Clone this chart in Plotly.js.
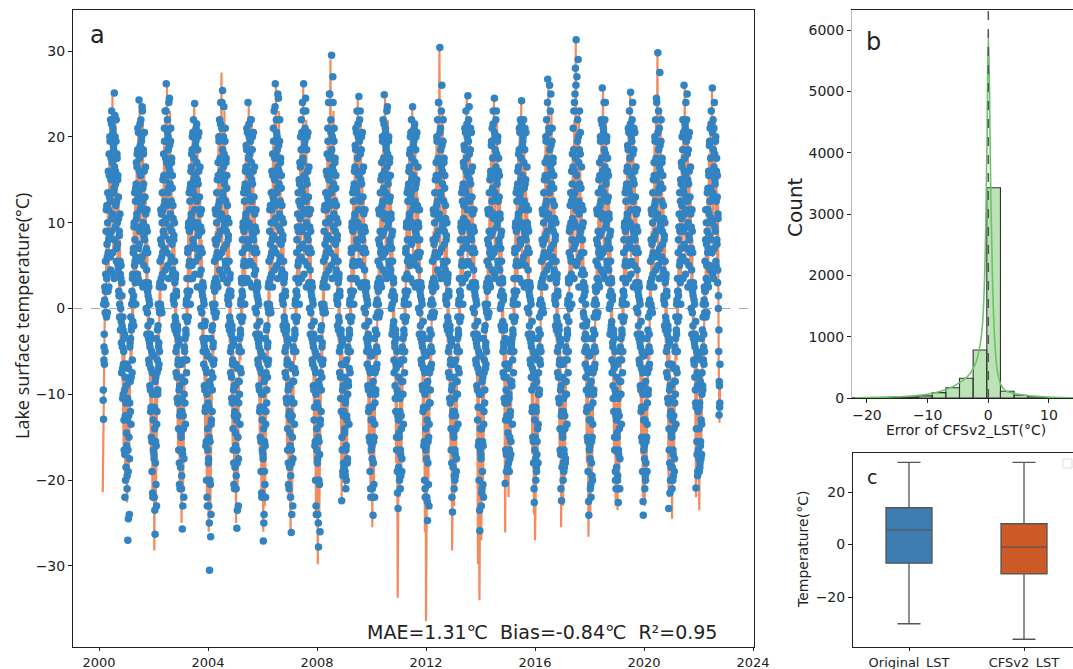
<!DOCTYPE html>
<html>
<head>
<meta charset="utf-8">
<script src="https://cdn.plot.ly/plotly-3.0.1.min.js"></script>
<style>html,body{margin:0;padding:0;background:#fff;}#chart{width:1073px;height:669px;}</style>
</head>
<body>
<div id="chart"></div>
<script>
// ---------- Panel a : time series ----------
const years = [2000,2001,2002,2003,2004,2005,2006,2007,2008,2009,2010,2011,2012,2013,2014,2015,2016,2017,2018,2019,2020,2021,2022];
// day-of-year of observation samples (two interleaved 5-day sets)
const obsDOY  = [0,5,10,15,20,25,30,35,40,45,50,55,60,65,70,75,80,85,90,95,100,105,110,115,120,125,130,135,140,145,150,155,160,165,170,175,180,185,190,195,200,205,210,215,220,225,230,235,240,245,250,255,260,265,270,275,280,285,290,295,300,305,310,315,320,325,330,335,340,345,350,355,360];
const obsDOY2 = [2,7,12,17,22,27,32,37,42,47,52,57,62,67,72,77,82,87,92,97,102,107,112,117,122,127,132,137,142,147,152,157,162,167,172,177,182,187,192,197,202,207,212,217,222,227,232,237,242,247,252,257,262,267,272,277,282,287,292,297,302,307,312,317,322,327,332,337,342,347,352,357,362];
// day-of-year of CFSv2 samples (10-day steps)
const cfsDOY = [0,10,20,30,40,50,60,70,80,90,100,110,120,130,140,150,160,170,180,190,200,210,220,230,240,250,260,270,280,290,300,310,320,330,340,350,360];

// Original LST (blue points), set 1: one row per year, 73 values each
const obsLST = [
/*2000*/ null,null,null,null,null,null,null,null,null,null,null,-10.7,-12.9,-6,-3,1,-5,2,4,9,-1,12,6,10,2,16,8,18,13,20,6,22,15,9,23,17,11,21,4,19,14,25.1,8,20,16,12,22,7,18,10,15,5,13,2,9,-1,11,4,0,5,-4,3,-2,-7,-1,-10,-5,-13,-3,-17,-8,-20,-11,
/*2001*/ -9,-16,-21,-13,-27,-19,-7,-15,-24,-11,-4,-12,-1,-8,-2,2,-6,4,1,7,-2,10,5,8,3,14,6,17,11,18,4,21,13,7,24.3,16,9,19,3,22,12,20,6,23,14,10,18,5,16,8,13,3,11,0,7,-3,9,2,-2,3,-6,1,-4,-9,-3,-12,-7,-15,-5,-19,-10,-22,-13,
/*2002*/ -10,-17,-22,-14,-26.3,-18,-8,-16,-23,-12,-6,-10,-2,-7,-4,0,-5,3,3,8,0,11,6,10,4,15,9,18,12,21,7,23,15,10,26.2,17,12,22,5,20,14,24,8,19,16,11,21,6,17,9,14,4,12,1,8,-2,10,3,-1,4,-5,2,-3,-8,-2,-11,-6,-14,-4,-18,-9,-21,-12,
/*2003*/ -8,-15,-21,-12,-25.7,-17,-6,-14,-22,-10,-5,-11,-1,-6,-3,1,-6,2,2,7,-1,10,5,9,2,14,7,16,11,18,5,20,14,8,22,15,10,23.9,4,19,13,21,7,17,15,10,20,6,16,9,13,4,11,0,7,-2,9,2,-2,3,-5,1,-4,-9,-2,-12,-7,-16,-5,-20,-10,-23,-14,
/*2004*/ -11,-18,-23,-15,-30.5,-20,-9,-26.6,-24,-13,-6,-12,-2,-8,-4,0,-6,3,2,8,-1,11,6,10,3,15,8,17,12,20,6,22,15,9,24,16,11,21,4,25.4,13,20,7,18,15,10,21,5,17,9,14,3,12,1,8,-2,10,2,-1,4,-5,2,-3,-8,-2,-11,-6,-14,-4,-18,-9,-21,-12,
/*2005*/ -9,-16,-21,-13,-25.6,-18,-7,-15,-23,-11,-5,-10,-1,-7,-3,1,-5,3,2,8,-1,10,5,9,3,14,7,16,11,19,5,21,14,8,24,16,10,20,3,18,13,22,7,17,15,9,20,5,16,8,13,4,11,0,7,-3,9,2,-2,3,-6,1,-4,-9,-3,-12,-7,-15,-5,-19,-10,-22,-13,
/*2006*/ -10,-17,-27.1,-14,-24,-19,-8,-16,-22,-12,-6,-11,-2,-8,-4,0,-6,3,3,9,0,12,6,10,4,16,8,18,13,21,7,23,15,10,26.2,18,12,22,5,20,14,25,8,19,16,11,22,6,17,9,14,4,12,1,8,-2,10,3,-1,4,-5,2,-3,-8,-2,-11,-6,-14,-4,-18,-9,-21,-12,
/*2007*/ -9,-16,-22,-13,-26.1,-18,-7,-15,-23,-11,-5,-11,-1,-7,-3,1,-5,2,2,8,-1,11,5,9,3,15,7,17,12,20,6,22,14,9,24,17,11,26.2,4,19,13,21,7,23,15,10,20,5,16,8,13,3,11,0,7,-3,9,2,-2,3,-6,1,-4,-9,-3,-13,-7,-16,-5,-20,-10,-24,-14,
/*2008*/ -11,-18,-24,-15,-27.8,-20,-9,-17,-26,-13,-6,-12,-2,-8,-4,0,-6,3,3,9,0,12,6,10,4,16,8,18,13,21,7,24,15,10,25,18,12,22,5,29.5,14,20,8,24,16,11,21,6,17,9,14,4,12,1,8,-2,10,3,-1,4,-5,2,-3,-8,-3,-12,-22.4,-15,-4,-19,-9,-18,-12,
/*2009*/ -8,-14,-19,-11,-21,-16,-6,-13,-18,-10,-5,-9,-1,-7,-3,1,-5,2,2,7,-1,10,5,9,2,14,7,16,11,19,5,21,14,8,23,16,10,20,3,24.7,13,22,7,18,15,9,20,5,16,8,13,3,11,0,7,-2,9,2,-2,3,-5,1,-4,-9,-3,-12,-7,-15,-5,-19,-10,-22,-13,
/*2010*/ -9,-16,-21,-13,-24.1,-18,-7,-15,-22,-11,-5,-10,-1,-7,-3,1,-5,3,2,8,-1,11,5,9,3,15,7,17,12,20,6,22,14,9,24.9,16,11,21,4,19,13,23,7,18,15,10,20,5,17,8,13,4,11,0,7,-3,9,2,-2,3,-6,1,-4,-9,-3,-12,-7,-15,-5,-19,-10,-23.3,-13,
/*2011*/ -8,-15,-20,-12,-21,-17,-6,-14,-19,-10,-5,-10,-1,-6,-3,1,-5,2,2,7,-1,10,4,8,2,14,6,16,11,18,5,20,13,8,22,15,10,23.5,3,19,12,21,6,17,14,9,20,5,15,8,12,3,10,0,6,-3,8,2,-2,3,-6,1,-4,-9,-3,-12,-7,-16,-5,-20,-10,-22,-14,
/*2012*/ -9,-16,-22,-13,-24.7,-18,-7,-15,-23,-11,-5,-11,-1,-7,-3,1,-5,3,2,8,-1,11,6,10,3,15,8,17,12,20,6,22,15,9,24,17,11,30.4,4,21,13,23,7,19,16,10,22,5,17,9,14,4,12,1,8,-2,10,3,-1,4,-5,2,-3,-8,-2,-11,-6,-14,-4,-18,-9,-23.7,-12,
/*2013*/ -8,-15,-21,-12,-20,-17,-6,-14,-19,-10,-5,-10,-1,-7,-3,1,-5,2,2,8,-1,10,5,9,3,14,7,17,12,19,5,21,14,8,23,16,10,20,4,24.8,13,22,7,18,15,9,21,5,16,8,13,3,11,0,7,-3,9,2,-2,3,-6,1,-4,-9,-3,-13,-7,-16,-5,-20,-10,-25.9,-14,
/*2014*/ -10,-17,-23,-14,-21,-19,-8,-16,-22,-12,-6,-11,-2,-7,-4,0,-5,3,2,8,-1,11,5,9,3,15,7,16,11,19,6,21,14,9,23,16,11,24.5,4,20,13,22,7,18,15,10,20,5,16,8,13,3,11,0,7,-2,9,2,-2,3,-5,1,-4,-8,-2,-11,-20.4,-13,-4,-17,-8,-19,-11,
/*2015*/ -7,-13,-18,-10,-19,-15,-5,-12,-17,-9,-4,-9,-1,-6,-3,1,-5,2,2,7,-1,10,5,9,2,14,7,16,11,18,5,21,13,8,22,15,10,24.2,3,19,12,20,6,17,14,9,21,5,15,8,12,3,10,0,7,-3,9,2,-2,3,-6,1,-4,-8,-3,-12,-7,-15,-5,-18,-9,-22.6,-13,
/*2016*/ -8,-15,-20,-12,-19,-17,-6,-14,-18,-10,-5,-10,-1,-6,-3,1,-5,3,3,8,0,11,6,10,4,15,8,17,12,20,6,22,15,9,26.7,17,11,21,5,26,14,23,7,19,16,10,21,6,17,9,14,4,12,1,8,-2,10,3,-1,4,-5,2,-3,-8,-2,-11,-6,-14,-4,-17,-9,-22.4,-12,
/*2017*/ -8,-15,-20,-12,-19,-17,-6,-14,-18,-10,-5,-10,-1,-6,-3,1,-5,3,3,9,0,12,6,10,4,16,8,18,13,21,7,23,16,10,25,28,12,31.3,5,27,14,22,8,20,17,11,23,6,18,9,14,4,12,1,8,-2,10,3,-1,4,-5,2,-3,-8,-2,-12,-7,-15,-5,-19,-10,-24.1,-13,
/*2018*/ -9,-16,-21,-13,-22,-18,-7,-15,-20,-11,-5,-10,-1,-7,-3,1,-5,2,2,8,-1,11,5,9,3,15,7,17,12,20,6,22,14,9,25.7,16,11,21,4,24,13,22,7,18,15,10,20,5,16,8,13,3,11,0,7,-3,9,2,-2,3,-6,1,-4,-9,-3,-12,-7,-15,-5,-19,-10,-21,-13,
/*2019*/ -8,-15,-20,-12,-22.6,-17,-6,-14,-21,-10,-5,-10,-1,-6,-3,1,-5,2,2,8,-1,10,5,9,3,14,7,16,11,19,5,21,14,8,23,16,10,25.2,4,20,13,22,7,18,15,9,21,5,16,8,13,3,11,0,7,-3,9,2,-2,3,-6,1,-4,-9,-3,-12,-7,-15,-5,-19,-10,-24.1,-13,
/*2020*/ -9,-16,-21,-13,-20,-18,-7,-15,-19,-11,-5,-10,-1,-7,-3,1,-5,3,3,8,0,11,6,10,4,15,8,17,12,20,6,22,15,9,24,17,11,29.8,5,23,14,21,7,19,16,10,22,6,17,9,14,4,12,1,8,-2,10,3,-1,4,-5,2,-3,-8,-2,-11,-23.3,-14,-4,-18,-9,-20,-12,
/*2021*/ -9,-15,-21,-13,-20,-17,-7,-14,-19,-11,-5,-10,-1,-7,-3,1,-5,2,2,8,-1,11,5,9,3,15,7,17,12,20,6,22,14,9,26,16,11,21,4,24,13,22,7,18,15,10,20,5,16,8,13,3,11,0,7,-3,9,2,-2,3,-6,1,-4,-8,-3,-11,-20.9,-14,-5,-17,-9,-19,-12,
/*2022*/ -8,-14,-19,-11,-18,-16,-6,-13,-17,-10,-5,-9,-1,-6,-3,1,-5,2,2,8,-1,10,5,9,3,14,7,16,11,19,5,21,14,8,23,16,10,25.7,4,22,13,21,7,18,15,9,20,5,16,8,13,3,11,0,-5,-12.4,-9,-11,null,null,null,null,null,null,null,null,null,null,null,null,null,null,null
];

// Original LST (blue points), set 2 (offset days): one row per year, 73 values each
const obsLST2 = [
/*2000*/ null,null,null,null,null,null,null,null,null,null,null,-9.5,0.5,-4.5,-6.5,2.5,-0.5,5.5,0.5,11.5,3.5,7.5,-0.5,13.5,6.5,11.5,2.5,15.5,8.5,19.5,12.5,4.5,17.5,21.5,10.5,15.5,6.5,20.5,13.5,18.5,3.5,16.5,22.5,9.5,14.5,19.5,5.5,12.5,17.5,7.5,15.5,4.5,10.5,1.5,8.5,0.5,5.5,-2.5,3.5,-1.5,-7.5,1.5,-4.5,-10.5,-2.5,-6.5,-3.5,-16.5,-9.5,-22,-12.5,-6.5,-18.5,
/*2001*/ -14.5,-6.5,-19.5,-10.5,-16.5,-24.5,-12.5,-8.5,-17.5,-4.5,-8.5,-3.5,-13.5,-2.5,0.5,-7.5,3.5,-1.5,6.5,1.5,9.5,3.5,13.5,5.5,12.5,0.5,14.5,10.5,16.5,9.5,18.5,3.5,20.5,13.5,7.5,17.5,21.5,11.5,15.5,5.5,19.5,9.5,23.5,12.5,2.5,18.5,14.5,8.5,20.5,11.5,6.5,16.5,2.5,9.5,4.5,11.5,-0.5,6.5,1.5,-3.5,2.5,-6.5,0.5,-4.5,-9.5,-1.5,-11.5,-3.5,-15.5,-7.5,-21.5,-5.5,-16.5,
/*2002*/ -5.5,-17.5,-11.5,-23.5,-8.5,-15.5,-20.5,-3.5,-13.5,-7.5,-2.5,-9.5,0.5,-4.5,-6.5,2.5,-0.5,5.5,0.5,11.5,3.5,7.5,-0.5,13.5,6.5,11.5,2.5,15.5,8.5,19.5,12.5,4.5,17.5,23,10.5,15.5,6.5,20.5,13.5,18.5,3.5,16.5,24.5,9.5,14.5,19.5,5.5,12.5,17.5,7.5,15.5,4.5,10.5,1.5,8.5,0.5,5.5,-2.5,3.5,-1.5,-7.5,1.5,-4.5,-10.5,-2.5,-6.5,-3.5,-16.5,-9.5,-20.5,-12.5,-6.5,-18.5,
/*2003*/ -14.5,-6.5,-19.5,-10.5,-16.5,-23,-12.5,-8.5,-17.5,-4.5,-8.5,-3.5,-13.5,-2.5,0.5,-7.5,3.5,-1.5,6.5,1.5,9.5,3.5,13.5,5.5,12.5,0.5,14.5,10.5,16.5,9.5,18.5,3.5,20.5,13.5,7.5,17.5,20.5,11.5,15.5,5.5,19.5,9.5,21.5,12.5,2.5,18.5,14.5,8.5,20.5,11.5,6.5,16.5,2.5,9.5,4.5,11.5,-0.5,6.5,1.5,-3.5,2.5,-6.5,0.5,-4.5,-9.5,-1.5,-11.5,-3.5,-15.5,-7.5,-22,-5.5,-16.5,
/*2004*/ -5.5,-17.5,-11.5,-25,-8.5,-15.5,-20.5,-3.5,-13.5,-7.5,-2.5,-9.5,0.5,-4.5,-6.5,2.5,-0.5,5.5,0.5,11.5,3.5,7.5,-0.5,13.5,6.5,11.5,2.5,15.5,8.5,19.5,12.5,4.5,17.5,21.5,10.5,15.5,6.5,24,13.5,18.5,3.5,16.5,23.5,9.5,14.5,19.5,5.5,12.5,17.5,7.5,15.5,4.5,10.5,1.5,8.5,0.5,5.5,-2.5,3.5,-1.5,-7.5,1.5,-4.5,-10.5,-2.5,-6.5,-3.5,-16.5,-9.5,-20.5,-12.5,-6.5,-18.5,
/*2005*/ -14.5,-6.5,-19.5,-10.5,-16.5,-23.5,-12.5,-8.5,-17.5,-4.5,-8.5,-3.5,-13.5,-2.5,0.5,-7.5,3.5,-1.5,6.5,1.5,9.5,3.5,13.5,5.5,12.5,0.5,14.5,10.5,16.5,9.5,18.5,3.5,20.5,13.5,7.5,17.5,21.5,11.5,15.5,5.5,19.5,9.5,22,12.5,2.5,18.5,14.5,8.5,20.5,11.5,6.5,16.5,2.5,9.5,4.5,11.5,-0.5,6.5,1.5,-3.5,2.5,-6.5,0.5,-4.5,-9.5,-1.5,-11.5,-3.5,-15.5,-7.5,-21.5,-5.5,-16.5,
/*2006*/ -5.5,-17.5,-11.5,-25,-8.5,-15.5,-20.5,-3.5,-13.5,-7.5,-2.5,-9.5,0.5,-4.5,-6.5,2.5,-0.5,5.5,0.5,11.5,3.5,7.5,-0.5,13.5,6.5,11.5,2.5,15.5,8.5,19.5,12.5,4.5,17.5,23.5,10.5,15.5,6.5,20.5,13.5,18.5,3.5,16.5,24.5,9.5,14.5,19.5,5.5,12.5,17.5,7.5,15.5,4.5,10.5,1.5,8.5,0.5,5.5,-2.5,3.5,-1.5,-7.5,1.5,-4.5,-10.5,-2.5,-6.5,-3.5,-16.5,-9.5,-20.5,-12.5,-6.5,-18.5,
/*2007*/ -14.5,-6.5,-19.5,-10.5,-16.5,-24,-12.5,-8.5,-17.5,-4.5,-8.5,-3.5,-13.5,-2.5,0.5,-7.5,3.5,-1.5,6.5,1.5,9.5,3.5,13.5,5.5,12.5,0.5,14.5,10.5,16.5,9.5,18.5,3.5,20.5,13.5,7.5,17.5,23,11.5,15.5,5.5,19.5,9.5,24.5,12.5,2.5,18.5,14.5,8.5,20.5,11.5,6.5,16.5,2.5,9.5,4.5,11.5,-0.5,6.5,1.5,-3.5,2.5,-6.5,0.5,-4.5,-9.5,-1.5,-11.5,-3.5,-15.5,-7.5,-23,-5.5,-16.5,
/*2008*/ -5.5,-17.5,-11.5,-25,-8.5,-15.5,-20.5,-3.5,-13.5,-7.5,-2.5,-9.5,0.5,-4.5,-6.5,2.5,-0.5,5.5,0.5,11.5,3.5,7.5,-0.5,13.5,6.5,11.5,2.5,15.5,8.5,19.5,12.5,4.5,17.5,25,10.5,15.5,6.5,20.5,13.5,18.5,3.5,16.5,27,9.5,14.5,19.5,5.5,12.5,17.5,7.5,15.5,4.5,10.5,1.5,8.5,0.5,5.5,-2.5,3.5,-1.5,-7.5,1.5,-4.5,-10.5,-2.5,-6.5,-3.5,-16.5,-9.5,-19.5,-12.5,-6.5,-18.5,
/*2009*/ -14.5,-6.5,-19.5,-10.5,-16.5,-20,-12.5,-8.5,-17.5,-4.5,-8.5,-3.5,-13.5,-2.5,0.5,-7.5,3.5,-1.5,6.5,1.5,9.5,3.5,13.5,5.5,12.5,0.5,14.5,10.5,16.5,9.5,18.5,3.5,20.5,13.5,7.5,17.5,21.5,11.5,15.5,5.5,19.5,9.5,23,12.5,2.5,18.5,14.5,8.5,20.5,11.5,6.5,16.5,2.5,9.5,4.5,11.5,-0.5,6.5,1.5,-3.5,2.5,-6.5,0.5,-4.5,-9.5,-1.5,-11.5,-3.5,-15.5,-7.5,-21,-5.5,-16.5,
/*2010*/ -5.5,-17.5,-11.5,-22,-8.5,-15.5,-20.5,-3.5,-13.5,-7.5,-2.5,-9.5,0.5,-4.5,-6.5,2.5,-0.5,5.5,0.5,11.5,3.5,7.5,-0.5,13.5,6.5,11.5,2.5,15.5,8.5,19.5,12.5,4.5,17.5,21.5,10.5,15.5,6.5,20.5,13.5,18.5,3.5,16.5,23.5,9.5,14.5,19.5,5.5,12.5,17.5,7.5,15.5,4.5,10.5,1.5,8.5,0.5,5.5,-2.5,3.5,-1.5,-7.5,1.5,-4.5,-10.5,-2.5,-6.5,-3.5,-16.5,-9.5,-21.5,-12.5,-6.5,-18.5,
/*2011*/ -14.5,-6.5,-19.5,-10.5,-16.5,-19.5,-12.5,-8.5,-17.5,-4.5,-8.5,-3.5,-13.5,-2.5,0.5,-7.5,3.5,-1.5,6.5,1.5,9.5,3.5,13.5,5.5,12.5,0.5,14.5,10.5,16.5,9.5,18.5,3.5,20.5,13.5,7.5,17.5,20.5,11.5,15.5,5.5,19.5,9.5,21.5,12.5,2.5,18.5,14.5,8.5,20.5,11.5,6.5,16.5,2.5,9.5,4.5,11.5,-0.5,6.5,1.5,-3.5,2.5,-6.5,0.5,-4.5,-9.5,-1.5,-11.5,-3.5,-15.5,-7.5,-21,-5.5,-16.5,
/*2012*/ -5.5,-17.5,-11.5,-22.5,-8.5,-15.5,-20.5,-3.5,-13.5,-7.5,-2.5,-9.5,0.5,-4.5,-6.5,2.5,-0.5,5.5,0.5,11.5,3.5,7.5,-0.5,13.5,6.5,11.5,2.5,15.5,8.5,19.5,12.5,4.5,17.5,24,10.5,15.5,6.5,20.5,13.5,18.5,3.5,16.5,26,9.5,14.5,19.5,5.5,12.5,17.5,7.5,15.5,4.5,10.5,1.5,8.5,0.5,5.5,-2.5,3.5,-1.5,-7.5,1.5,-4.5,-10.5,-2.5,-6.5,-3.5,-16.5,-9.5,-22,-12.5,-6.5,-18.5,
/*2013*/ -14.5,-6.5,-19.5,-10.5,-16.5,-19.5,-12.5,-8.5,-17.5,-4.5,-8.5,-3.5,-13.5,-2.5,0.5,-7.5,3.5,-1.5,6.5,1.5,9.5,3.5,13.5,5.5,12.5,0.5,14.5,10.5,16.5,9.5,18.5,3.5,20.5,13.5,7.5,17.5,21.5,11.5,15.5,5.5,19.5,9.5,23.5,12.5,2.5,18.5,14.5,8.5,20.5,11.5,6.5,16.5,2.5,9.5,4.5,11.5,-0.5,6.5,1.5,-3.5,2.5,-6.5,0.5,-4.5,-9.5,-1.5,-11.5,-3.5,-15.5,-7.5,-23.5,-5.5,-16.5,
/*2014*/ -5.5,-17.5,-11.5,-21.5,-8.5,-15.5,-20.5,-3.5,-13.5,-7.5,-2.5,-9.5,0.5,-4.5,-6.5,2.5,-0.5,5.5,0.5,11.5,3.5,7.5,-0.5,13.5,6.5,11.5,2.5,15.5,8.5,19.5,12.5,4.5,17.5,21.5,10.5,15.5,6.5,20.5,13.5,18.5,3.5,16.5,23,9.5,14.5,19.5,5.5,12.5,17.5,7.5,15.5,4.5,10.5,1.5,8.5,0.5,5.5,-2.5,3.5,-1.5,-7.5,1.5,-4.5,-10.5,-2.5,-6.5,-3.5,-16.5,-9.5,-19,-12.5,-6.5,-18.5,
/*2015*/ -14.5,-6.5,-17,-10.5,-16.5,-17.5,-12.5,-8.5,-15.5,-4.5,-8.5,-3.5,-13.5,-2.5,0.5,-7.5,3.5,-1.5,6.5,1.5,9.5,3.5,13.5,5.5,12.5,0.5,14.5,10.5,16.5,9.5,18.5,3.5,20.5,13.5,7.5,17.5,21.5,11.5,15.5,5.5,19.5,9.5,22,12.5,2.5,18.5,14.5,8.5,20.5,11.5,6.5,16.5,2.5,9.5,4.5,11.5,-0.5,6.5,1.5,-3.5,2.5,-6.5,0.5,-4.5,-9.5,-1.5,-11.5,-3.5,-15.5,-7.5,-21,-5.5,-16.5,
/*2016*/ -5.5,-17.5,-11.5,-18.5,-8.5,-15.5,-18,-3.5,-13.5,-7.5,-2.5,-9.5,0.5,-4.5,-6.5,2.5,-0.5,5.5,0.5,11.5,3.5,7.5,-0.5,13.5,6.5,11.5,2.5,15.5,8.5,19.5,12.5,4.5,17.5,24,10.5,15.5,6.5,20.5,13.5,18.5,3.5,16.5,25,9.5,14.5,19.5,5.5,12.5,17.5,7.5,15.5,4.5,10.5,1.5,8.5,0.5,5.5,-2.5,3.5,-1.5,-7.5,1.5,-4.5,-10.5,-2.5,-6.5,-3.5,-16.5,-9.5,-21,-12.5,-6.5,-18.5,
/*2017*/ -14.5,-6.5,-18,-10.5,-16.5,-18.5,-12.5,-8.5,-17.5,-4.5,-8.5,-3.5,-13.5,-2.5,0.5,-7.5,3.5,-1.5,6.5,1.5,9.5,3.5,13.5,5.5,12.5,0.5,14.5,10.5,16.5,9.5,18.5,3.5,24,13.5,7.5,17.5,26,11.5,15.5,5.5,19.5,9.5,29,12.5,2.5,18.5,14.5,8.5,20.5,11.5,6.5,16.5,2.5,9.5,4.5,11.5,-0.5,6.5,1.5,-3.5,2.5,-6.5,0.5,-4.5,-9.5,-1.5,-11.5,-3.5,-15.5,-7.5,-22.5,-5.5,-16.5,
/*2018*/ -5.5,-17.5,-11.5,-20.5,-8.5,-15.5,-19.5,-3.5,-13.5,-7.5,-2.5,-9.5,0.5,-4.5,-6.5,2.5,-0.5,5.5,0.5,11.5,3.5,7.5,-0.5,13.5,6.5,11.5,2.5,15.5,8.5,19.5,12.5,4.5,17.5,21.5,10.5,15.5,6.5,20.5,13.5,18.5,3.5,16.5,24,9.5,14.5,19.5,5.5,12.5,17.5,7.5,15.5,4.5,10.5,1.5,8.5,0.5,5.5,-2.5,3.5,-1.5,-7.5,1.5,-4.5,-10.5,-2.5,-6.5,-3.5,-16.5,-9.5,-20,-12.5,-6.5,-18.5,
/*2019*/ -14.5,-6.5,-19.5,-10.5,-16.5,-21,-12.5,-8.5,-17.5,-4.5,-8.5,-3.5,-13.5,-2.5,0.5,-7.5,3.5,-1.5,6.5,1.5,9.5,3.5,13.5,5.5,12.5,0.5,14.5,10.5,16.5,9.5,18.5,3.5,20.5,13.5,7.5,17.5,21.5,11.5,15.5,5.5,19.5,9.5,24,12.5,2.5,18.5,14.5,8.5,20.5,11.5,6.5,16.5,2.5,9.5,4.5,11.5,-0.5,6.5,1.5,-3.5,2.5,-6.5,0.5,-4.5,-9.5,-1.5,-11.5,-3.5,-15.5,-7.5,-22.5,-5.5,-16.5,
/*2020*/ -5.5,-17.5,-11.5,-19.5,-8.5,-15.5,-19,-3.5,-13.5,-7.5,-2.5,-9.5,0.5,-4.5,-6.5,2.5,-0.5,5.5,0.5,11.5,3.5,7.5,-0.5,13.5,6.5,11.5,2.5,15.5,8.5,19.5,12.5,4.5,17.5,24.5,10.5,15.5,6.5,20.5,13.5,18.5,3.5,16.5,27.5,9.5,14.5,19.5,5.5,12.5,17.5,7.5,15.5,4.5,10.5,1.5,8.5,0.5,5.5,-2.5,3.5,-1.5,-7.5,1.5,-4.5,-10.5,-2.5,-6.5,-3.5,-16.5,-9.5,-21.5,-12.5,-6.5,-18.5,
/*2021*/ -14.5,-6.5,-18.5,-10.5,-16.5,-19.5,-12.5,-8.5,-17.5,-4.5,-8.5,-3.5,-13.5,-2.5,0.5,-7.5,3.5,-1.5,6.5,1.5,9.5,3.5,13.5,5.5,12.5,0.5,14.5,10.5,16.5,9.5,18.5,3.5,20.5,13.5,7.5,17.5,21.5,11.5,15.5,5.5,19.5,9.5,25,12.5,2.5,18.5,14.5,8.5,20.5,11.5,6.5,16.5,2.5,9.5,4.5,11.5,-0.5,6.5,1.5,-3.5,2.5,-6.5,0.5,-4.5,-9.5,-1.5,-11.5,-3.5,-15.5,-7.5,-19.5,-5.5,-16.5,
/*2022*/ -5.5,-17.5,-11.5,-18.5,-8.5,-15.5,-17.5,-3.5,-13.5,-7.5,-2.5,-9.5,0.5,-4.5,-6.5,2.5,-0.5,5.5,0.5,11.5,3.5,7.5,-0.5,13.5,6.5,11.5,2.5,15.5,8.5,19.5,12.5,4.5,17.5,21.5,10.5,15.5,6.5,20.5,13.5,18.5,3.5,16.5,24,9.5,14.5,19.5,5.5,12.5,17.5,7.5,15.5,4.5,10.5,1.5,-2.5,-8.5,-11.5,-6.5,null,null,null,null,null,null,null,null,null,null,null,null,null,null,null
];

// CFSv2 LST (orange line), one row per year, 37 values each
const cfsLST = [
/*2000*/ null,null,null,null,null,-21.4,-8,-6,2,-1,9,4,13,3,18,8,21,12,25,6,19,14,22,9,16,5,13,1,8,-4,2,-6,-9,-16,-5,-20,-11,
/*2001*/ -12,-22.6,-8,-20,-15,-10,-3,-6,2,-1,9,4,13,3,18,8,21,12,24,6,19,14,22,9,16,5,13,1,8,-4,2,-6,-9,-17,-5,-22,-11,
/*2002*/ -13,-28.2,-9,-23,-16,-11,-3,-6,2,-1,9,4,14,3,19,8,22,12,26,6,20,14,23,9,16,5,13,1,8,-4,2,-6,-10,-17,-5,-21,-11,
/*2003*/ -12,-25,-8,-21,-15,-10,-3,-6,2,-1,9,4,13,3,18,8,21,12,24,6,19,14,22,9,16,5,13,1,8,-4,2,-6,-9,-17,-5,-22,-12,
/*2004*/ -13,-26,-9,-24,-16,-11,-3,-6,2,-1,9,4,14,3,19,8,22,12,27.5,6,20,14,23,9,16,5,13,1,8,-4,2,-6,-9,-16,-5,-21,-11,
/*2005*/ -12,-25,-8,-21,-15,-10,-3,-6,2,-1,9,4,13,3,18,8,21,12,24,6,19,14,22,9,16,5,13,1,8,-4,2,-6,-9,-17,-5,-22,-11,
/*2006*/ -13,-26,-9,-23,-16,-11,-3,-6,2,-1,9,4,14,3,19,8,22,12,26,6,20,14,23,9,16,5,13,1,8,-4,2,-6,-10,-17,-5,-22,-12,
/*2007*/ -12,-26.5,-8,-22,-15,-10,-3,-6,2,-1,9,4,13,3,18,8,21,12,26,6,19,14,22,9,16,5,13,1,8,-4,2,-6,-9,-18,-5,-24,-12,
/*2008*/ -14,-29.8,-9,-24,-16,-11,-3,-6,2,-1,9,4,14,3,19,8,22,12,29,6,20,14,23,9,16,5,13,1,8,-4,2,-6,-10,-22,-5,-18,-12,
/*2009*/ -11,-21,-8,-19,-14,-10,-3,-6,2,-1,9,4,13,3,18,8,21,12,24.5,6,19,14,22,9,16,5,13,1,8,-4,2,-6,-9,-17,-5,-21,-11,
/*2010*/ -12,-25.5,-8,-21,-15,-10,-3,-6,2,-1,9,4,13,3,18,8,21,12,24.5,6,19,14,22,9,16,5,13,1,8,-4,2,-6,-9,-18,-5,-33.7,-12,
/*2011*/ -12,-22,-8,-20,-15,-10,-3,-6,2,-1,9,4,13,3,18,8,21,12,23.8,6,19,14,22,9,16,5,13,1,8,-4,2,-6,-9,-18,-5,-26,-12,
/*2012*/ -36.4,-24,-8,-21,-15,-10,-3,-6,2,-1,9,4,14,3,19,8,22,12,30.4,6,20,14,23,9,16,5,13,1,8,-4,2,-6,-10,-18,-5,-28.2,-12,
/*2013*/ -12,-23,-8,-21,-15,-10,-3,-6,2,-1,9,4,13,3,18,8,21,12,24.8,6,19,14,22,9,16,5,13,1,8,-4,2,-6,-9,-29.8,-5,-34,-12,
/*2014*/ -12,-27,-8,-22,-15,-10,-3,-6,2,-1,9,4,13,3,18,8,21,12,24.5,6,19,14,22,9,16,5,13,1,8,-4,2,-6,-9,-26.1,-5,-20,-11,
/*2015*/ -11,-22,-8,-19,-14,-10,-3,-6,2,-1,9,4,13,3,18,8,21,12,24,6,19,14,22,9,16,5,13,1,8,-4,2,-6,-9,-17,-5,-24,-11,
/*2016*/ -27,-21,-8,-19,-14,-10,-3,-6,2,-1,9,4,14,3,19,8,22,12,26.5,6,20,14,23,9,16,5,13,1,8,-4,2,-6,-9,-17,-5,-25.5,-11,
/*2017*/ -12,-23,-8,-20,-15,-10,-3,-6,2,-1,9,4,14,3,19,8,22,12,31,6,20,14,23,9,16,5,13,1,8,-4,2,-6,-9,-18,-5,-26.6,-12,
/*2018*/ -12,-24,-8,-21,-15,-10,-3,-6,2,-1,9,4,13,3,18,8,21,12,25.5,6,19,14,22,9,16,5,13,1,8,-4,2,-6,-9,-17,-5,-23,-11,
/*2019*/ -12,-23.5,-8,-20,-15,-10,-3,-6,2,-1,9,4,13,3,18,8,21,12,25,6,19,14,22,9,16,5,13,1,8,-4,2,-6,-9,-17,-5,-22,-11,
/*2020*/ -12,-23,-8,-20,-15,-10,-3,-6,2,-1,9,4,14,3,19,8,22,12,29.8,6,20,14,23,9,16,5,13,1,8,-4,2,-6,-9,-22,-5,-17,-11,
/*2021*/ -12,-24.5,-8,-20,-15,-10,-3,-6,2,-1,9,4,13,3,18,8,21,12,26,6,19,14,22,9,16,5,13,1,8,-4,2,-6,-9,-22,-5,-18,-11,
/*2022*/ -12,-23.5,-8,-19,-14,-10,-3,-6,2,-1,9,4,13,3,18,8,21,12,25.5,6,19,14,22,9,16,5,13,-6,-13.3,-9,null,null,null,null,null,null,null
];

const statsText = 'MAE=1.31℃  Bias=-0.84℃  R²=0.95';

// ---------- Panel b : error histogram ----------
const binCenters = [-21.625,-19.375,-17.125,-14.875,-12.625,-10.375,-8.125,-5.875,-3.625,-1.375,0.875,3.125,5.375,7.625,9.875,12.125];
const binCounts  = [3,5,8,10,18,35,88,168,321,783,3430,110,45,22,8,4];
const kdeX = [-22,-20,-18,-16,-14,-12,-10,-9,-8,-7,-6,-5,-4,-3,-2.5,-2,-1.5,-1,-0.7,-0.4,-0.2,0,0.2,0.4,0.7,1,1.3,1.6,2,2.5,3,4,5,6,8,10,12,14];
const kdeY = [5,8,12,18,25,38,62,80,105,140,180,235,300,400,480,590,780,1150,1700,2900,4300,5950,5000,3400,1900,1050,600,380,230,150,110,80,60,45,28,15,8,4];

// ---------- Panel c : box plots ----------
const boxNames  = ['Original_LST','CFSv2_LST'];
const boxLow    = [-30.2,-36.1];
const boxQ1     = [-7.1,-11.2];
const boxMedian = [5.6,-1.0];
const boxQ3     = [14.0,7.9];
const boxHigh   = [31.3,31.3];
const boxColors = ['#3d7db2','#cc5a26'];

function dateOf(y, doy){
  const d = new Date(Date.UTC(y,0,1));
  d.setUTCDate(d.getUTCDate()+doy);
  return d.toISOString().slice(0,10);
}
const obsX=[], obsY=[], cfsX=[], cfsY=[];
years.forEach((y,yi)=>{
  obsDOY.forEach((d,i)=>{ obsX.push(dateOf(y,d)); obsY.push(obsLST[yi*obsDOY.length+i]); });
  obsDOY2.forEach((d,i)=>{ obsX.push(dateOf(y,d)); obsY.push(obsLST2[yi*obsDOY2.length+i]); });
  cfsDOY.forEach((d,i)=>{ cfsX.push(dateOf(y,d)); cfsY.push(cfsLST[yi*cfsDOY.length+i]); });
});

const W=1073, H=669;
const px = v => v/W, py = v => 1 - v/H;
const tickFont = {family:'DejaVu Sans, sans-serif', size:14, color:'#222'};
const xTickFont = {family:'DejaVu Sans, sans-serif', size:13, color:'#222'};

const traces = [
  {type:'scatter', mode:'lines', x:cfsX, y:cfsY, xaxis:'x', yaxis:'y',
   line:{color:'rgba(238,128,76,0.9)', width:2.2}, connectgaps:false, hoverinfo:'skip', showlegend:false},
  {type:'scatter', mode:'markers', x:obsX, y:obsY, xaxis:'x', yaxis:'y',
   marker:{color:'#3283c2', size:7.5, line:{width:0}}, showlegend:false},
  {type:'bar', x:binCenters, y:binCounts, width:2.25, xaxis:'x2', yaxis:'y2',
   marker:{color:'rgba(120,200,110,0.5)', line:{color:'#333', width:1.1}}, showlegend:false},
  {type:'scatter', mode:'lines', x:kdeX, y:kdeY, xaxis:'x2', yaxis:'y2', line:{color:'#6cc36a', width:1.6, shape:'spline'}, showlegend:false}
];
boxNames.forEach((n,i)=>{
  traces.push({type:'box', x:[n], q1:[boxQ1[i]], median:[boxMedian[i]], q3:[boxQ3[i]],
    lowerfence:[boxLow[i]], upperfence:[boxHigh[i]], xaxis:'x3', yaxis:'y3',
    width:0.4, whiskerwidth:0.5, fillcolor:boxColors[i], line:{color:'#555', width:1.3},
    boxpoints:false, showlegend:false});
});

const axBase = {showgrid:false, zeroline:false, ticks:'outside', ticklen:4, tickcolor:'#222', tickwidth:1, tickfont:tickFont, showline:true, linecolor:'#222', linewidth:1};

const layout = {
  width:W, height:H, margin:{l:0,r:0,t:0,b:0}, paper_bgcolor:'#fff', plot_bgcolor:'#fff',
  font:{family:'DejaVu Sans, sans-serif', color:'#222'},
  showlegend:false,
  xaxis: Object.assign({}, axBase, {domain:[px(73), px(754)], anchor:'y', type:'date', ticklen:3, tickfont:xTickFont,
    range:['1999-01-17','2024-01-14'], tick0:'2000-01-01', dtick:'M48', tickformat:'%Y', mirror:true}),
  yaxis: Object.assign({}, axBase, {domain:[py(647), py(10)], anchor:'x', range:[-39.44,34.78], tickvals:[-30,-20,-10,0,10,20,30], mirror:true}),
  xaxis2: Object.assign({}, axBase, {domain:[px(852), 1], anchor:'y2', range:[-22.47,13.96], tickvals:[-20,-10,0,10], mirror:true}),
  yaxis2: Object.assign({}, axBase, {domain:[py(398), py(10)], anchor:'x2', range:[0,6330], tickvals:[0,1000,2000,3000,4000,5000,6000], linecolor:'#bbb'}),
  xaxis3: Object.assign({}, axBase, {domain:[px(853), 1], anchor:'y3', type:'category', categoryorder:'array', categoryarray:boxNames, range:[-0.487,1.426], mirror:true, ticklen:3, tickfont:xTickFont}),
  yaxis3: Object.assign({}, axBase, {domain:[py(647), py(453)], anchor:'x3', range:[-39.05,34.86], tickvals:[-20,0,20]}),
  bargap:0,
  shapes:[
    {type:'line', xref:'x domain', x0:0, x1:1, yref:'y', y0:0, y1:0, layer:'below', line:{color:'#aaa', width:1, dash:'dash'}},
    {type:'line', xref:'x2', x0:0, x1:0, yref:'y2 domain', y0:0, y1:1, layer:'above', line:{color:'#555', width:1.5, dash:'dash'}},
    {type:'rect', xref:'paper', yref:'paper', x0:px(1063), x1:px(1072), y0:py(468), y1:py(459), line:{color:'#ddd', width:1}}
  ],
  annotations:[
    {text:'a', xref:'paper', yref:'paper', x:px(88), y:py(35), xanchor:'left', yanchor:'middle', showarrow:false, font:{size:24}},
    {text:'b', xref:'paper', yref:'paper', x:px(864), y:py(42), xanchor:'left', yanchor:'middle', showarrow:false, font:{size:24}},
    {text:'c', xref:'paper', yref:'paper', x:px(865), y:py(477), xanchor:'left', yanchor:'middle', showarrow:false, font:{size:19}},
    {text:statsText, xref:'paper', yref:'paper', x:px(719), y:py(632), xanchor:'right', yanchor:'middle', showarrow:false, font:{size:19}},
    {text:'Lake surface temperature(°C)', xref:'paper', yref:'paper', x:px(22), y:py(316), textangle:-90, xanchor:'center', yanchor:'middle', showarrow:false, font:{family:'Open Sans, sans-serif', size:18}},
    {text:'Count', xref:'paper', yref:'paper', x:px(795), y:py(207), textangle:-90, xanchor:'center', yanchor:'middle', showarrow:false, font:{size:20}},
    {text:'Error of CFSv2_LST(°C)', xref:'paper', yref:'paper', x:px(966), y:py(430), xanchor:'center', yanchor:'middle', showarrow:false, font:{size:14}},
    {text:'Temperature(°C)', xref:'paper', yref:'paper', x:px(803), y:py(550), textangle:-90, xanchor:'center', yanchor:'middle', showarrow:false, font:{size:14}}
  ]
};

Plotly.newPlot('chart', traces, layout, {staticPlot:true, displayModeBar:false});
</script>
</body>
</html>
